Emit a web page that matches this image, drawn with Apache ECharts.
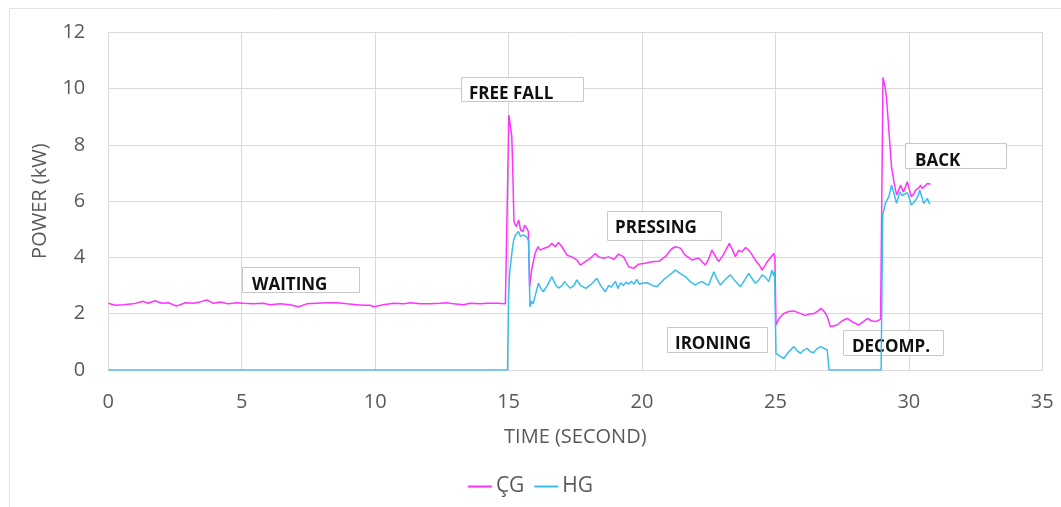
<!DOCTYPE html>
<html>
<head>
<meta charset="utf-8">
<script src="https://cdn.jsdelivr.net/npm/echarts@6/dist/echarts.min.js"></script>
<style>
html,body{margin:0;padding:0;background:#fff;}
#chart{width:1061px;height:507px;}
</style>
</head>
<body>
<div id="chart"></div>
<script>
// ---- DATA ----
const seriesNames = ['ÇG', 'HG'];
const xTicks = [0, 5, 10, 15, 20, 25, 30, 35];
const yTicks = [0, 2, 4, 6, 8, 10, 12];

const cgTime = [0,0.25,0.56,0.94,1.31,1.5,1.75,2.0,2.25,2.56,2.88,3.19,3.44,3.69,3.94,4.19,4.5,4.81,5.06,5.44,5.81,6.06,6.44,6.81,7.13,7.44,7.81,8.19,8.56,8.94,9.31,9.56,9.81,9.94,10.31,10.69,11.06,11.31,11.69,12.06,12.44,12.69,12.94,13.31,13.56,13.94,14.19,14.56,14.88,14.95,
15.01,15.06,15.12,15.16,15.2,15.29,15.38,15.45,15.54,15.6,15.68,15.74,15.79,15.86,15.99,16.1,16.19,16.31,16.5,16.62,16.75,16.87,17.0,17.19,17.37,17.56,17.69,17.87,18.06,18.25,18.37,18.56,18.75,18.94,19.12,19.31,19.5,19.69,19.87,20.12,
20.37,20.63,20.9,21.1,21.25,21.44,21.6,21.87,22.12,22.37,22.5,22.62,22.75,22.87,23.05,23.27,23.4,23.5,23.62,23.75,23.88,24.0,24.12,24.25,24.38,24.5,24.6,24.69,24.82,24.94,24.98,
25.02,25.15,25.31,25.5,25.69,25.9,26.12,26.3,26.44,26.6,26.71,26.85,26.94,27.06,27.31,27.5,27.69,27.9,28.12,28.3,28.44,28.6,28.75,28.94,
29.03,29.1,29.16,29.25,29.35,29.44,29.54,29.62,29.69,29.79,29.87,29.94,30.02,30.09,30.18,30.25,30.35,30.44,30.5,30.56,30.62,30.69,30.75,30.81];
const cgPower = [2.37,2.30,2.32,2.35,2.44,2.37,2.46,2.37,2.39,2.27,2.39,2.37,2.42,2.49,2.37,2.42,2.35,2.39,2.37,2.35,2.37,2.32,2.35,2.32,2.25,2.35,2.37,2.39,2.39,2.35,2.32,2.30,2.30,2.25,2.32,2.37,2.35,2.39,2.35,2.35,2.37,2.39,2.35,2.32,2.37,2.35,2.37,2.37,2.35,2.36,
9.06,9.0,8.3,7.0,5.27,5.09,5.33,4.97,4.92,5.15,5.04,4.92,2.96,3.54,4.14,4.38,4.26,4.32,4.38,4.5,4.38,4.53,4.38,4.08,4.02,3.91,3.73,3.85,3.97,4.14,4.02,3.97,4.02,3.93,4.12,4.02,3.67,3.61,3.76,3.79,
3.85,3.86,4.05,4.3,4.38,4.33,4.1,3.91,3.98,3.73,3.95,4.26,4.05,3.85,4.1,4.5,4.25,4.03,4.25,4.2,4.35,4.26,4.1,3.9,3.75,3.55,3.7,3.85,4.0,4.14,4.0,
1.6,1.85,2.01,2.08,2.1,2.02,1.94,2.0,2.0,2.1,2.19,2.05,1.9,1.54,1.6,1.75,1.83,1.7,1.6,1.72,1.83,1.75,1.72,1.8,
10.4,10.1,9.7,8.53,7.22,6.69,6.22,6.4,6.57,6.33,6.5,6.69,6.4,6.16,6.25,6.39,6.45,6.57,6.45,6.51,6.55,6.63,6.58,6.6];

const hgTime = [0,14.96,15.0,15.04,15.08,15.14,15.19,15.25,15.31,15.37,15.44,15.5,15.56,15.62,15.68,15.75,15.8,15.86,15.92,16.0,16.12,16.2,16.3,16.45,16.62,16.75,16.87,17.0,17.1,17.3,17.45,17.56,17.7,17.9,18.1,18.31,18.45,18.62,18.75,18.85,19.0,19.1,19.2,19.3,19.4,19.5,19.6,19.7,19.8,19.9,
20.0,20.2,20.4,20.56,20.8,21.0,21.25,21.4,21.62,21.8,22.0,22.12,22.25,22.4,22.5,22.69,22.8,22.94,23.1,23.31,23.5,23.69,23.85,24.0,24.12,24.25,24.38,24.5,24.62,24.75,24.87,24.93,24.97,
25.02,25.15,25.31,25.5,25.69,25.8,25.94,26.05,26.19,26.3,26.44,26.55,26.69,26.8,26.94,27.0,27.01,28.96,
29.02,29.12,29.25,29.35,29.44,29.54,29.66,29.75,29.81,29.94,30.02,30.09,30.18,30.25,30.35,30.41,30.5,30.56,30.62,30.69,30.75,30.81];
const hgPower = [0,0,2.6,3.44,3.8,4.3,4.62,4.78,4.72,4.92,4.75,4.69,4.8,4.87,4.72,4.6,2.25,2.45,2.35,2.65,3.09,2.9,2.78,3.0,3.32,3.05,2.91,3.0,3.14,2.91,3.0,3.2,3.0,2.9,3.05,3.26,3.0,2.78,3.0,2.95,3.15,2.9,3.1,3.0,3.12,3.05,3.15,3.05,3.22,3.05,
3.08,3.1,3.0,2.96,3.2,3.35,3.55,3.45,3.32,3.15,3.02,3.1,3.14,3.05,3.02,3.49,3.25,3.02,3.2,3.38,3.15,2.96,3.2,3.43,3.25,3.08,3.2,3.38,3.3,3.14,3.55,3.35,3.5,
0.59,0.5,0.41,0.65,0.83,0.7,0.59,0.7,0.77,0.65,0.62,0.75,0.83,0.78,0.71,0.7,0,0,
5.5,5.92,6.16,6.57,6.27,5.92,6.33,6.2,6.16,6.3,6.1,5.86,5.95,6.04,6.2,6.39,6.1,5.92,6.0,6.1,5.95,5.9];

const phaseLabels = ['WAITING', 'FREE FALL', 'PRESSING', 'IRONING', 'DECOMP.', 'BACK'];
const axisTitles = { x: 'TIME (SECOND)', y: 'POWER (kW)' };

// ---- LAYOUT (pixel boxes for annotation callouts) ----
const boxes = [
  { x: 242, y: 267, w: 117, h: 25, tx: 252, ty: 285 },
  { x: 461, y: 77,  w: 122, h: 24, tx: 469, ty: 94 },
  { x: 607, y: 211, w: 114, h: 29, tx: 615, ty: 228 },
  { x: 667, y: 327, w: 100, h: 25, tx: 675, ty: 344 },
  { x: 843, y: 330, w: 100, h: 25, tx: 852, ty: 347 },
  { x: 905, y: 143, w: 101, h: 25, tx: 915, ty: 161 }
];

const zip = (a, b) => a.map((t, i) => [t, b[i]]);
const labelColor = '#595959';
const fontFam = '"Open Sans", sans-serif';

const graphics = [{
  type: 'rect', z: 0, silent: true,
  shape: { x: 9.5, y: 8.5, width: 1200, height: 800 },
  style: { fill: null, stroke: '#E3E3E3', lineWidth: 1 }
}];
boxes.forEach((b, i) => {
  graphics.push({
    type: 'rect', z: 1, silent: true,
    shape: { x: b.x + 0.5, y: b.y + 0.5, width: b.w, height: b.h },
    style: { fill: '#fff', stroke: '#C8C8C8', lineWidth: 1 }
  });
  graphics.push({
    type: 'text', z: 1, silent: true, x: b.tx, y: b.ty,
    style: { text: phaseLabels[i], fill: '#111', font: 'bold 17px ' + fontFam, textVerticalAlign: 'middle', verticalAlign: 'middle' }
  });
});

const chart = echarts.init(document.getElementById('chart'));
chart.setOption({
  animation: false,
  backgroundColor: '#fff',
  grid: { left: 108.3, right: 18.7, top: 32.3, bottom: 137 },
  legend: {
    data: seriesNames,
    bottom: 5,
    left: 'center',
    icon: 'rect',
    itemWidth: 24,
    itemHeight: 2,
    itemGap: 10,
    textStyle: { color: labelColor, fontSize: 21, fontFamily: fontFam, padding: [0, 0, 0, -1] }
  },
  xAxis: {
    type: 'value', min: 0, max: 35, interval: 5,
    name: axisTitles.x, nameLocation: 'middle', nameGap: 57,
    nameTextStyle: { color: labelColor, fontSize: 20, fontFamily: fontFam },
    axisLine: { show: true, lineStyle: { color: '#D9D9D9' } },
    axisTick: { show: false },
    axisLabel: { color: labelColor, fontSize: 20, fontFamily: fontFam, margin: 22,
      formatter: v => xTicks.includes(v) ? String(v) : '' },
    splitLine: { show: true, lineStyle: { color: '#D9D9D9', width: 1 } }
  },
  yAxis: {
    type: 'value', min: 0, max: 12, interval: 2,
    name: axisTitles.y, nameLocation: 'middle', nameGap: 58,
    nameTextStyle: { color: labelColor, fontSize: 20, fontFamily: fontFam },
    axisLine: { show: true, lineStyle: { color: '#D9D9D9' } },
    axisTick: { show: false },
    axisLabel: { color: labelColor, fontSize: 20, fontFamily: fontFam, margin: 23,
      formatter: v => yTicks.includes(v) ? String(v) : '' },
    splitLine: { show: true, lineStyle: { color: '#D9D9D9', width: 1 } }
  },
  graphic: graphics,
  series: [
    { name: seriesNames[0], type: 'line', data: zip(cgTime, cgPower), showSymbol: false, symbol: 'none',
      lineStyle: { color: '#FF33FF', width: 1.5 }, itemStyle: { color: '#FF33FF' }, z: 3 },
    { name: seriesNames[1], type: 'line', data: zip(hgTime, hgPower), showSymbol: false, symbol: 'none',
      lineStyle: { color: '#38BDF0', width: 1.5 }, itemStyle: { color: '#38BDF0' }, z: 4 }
  ]
});
</script>
</body>
</html>
